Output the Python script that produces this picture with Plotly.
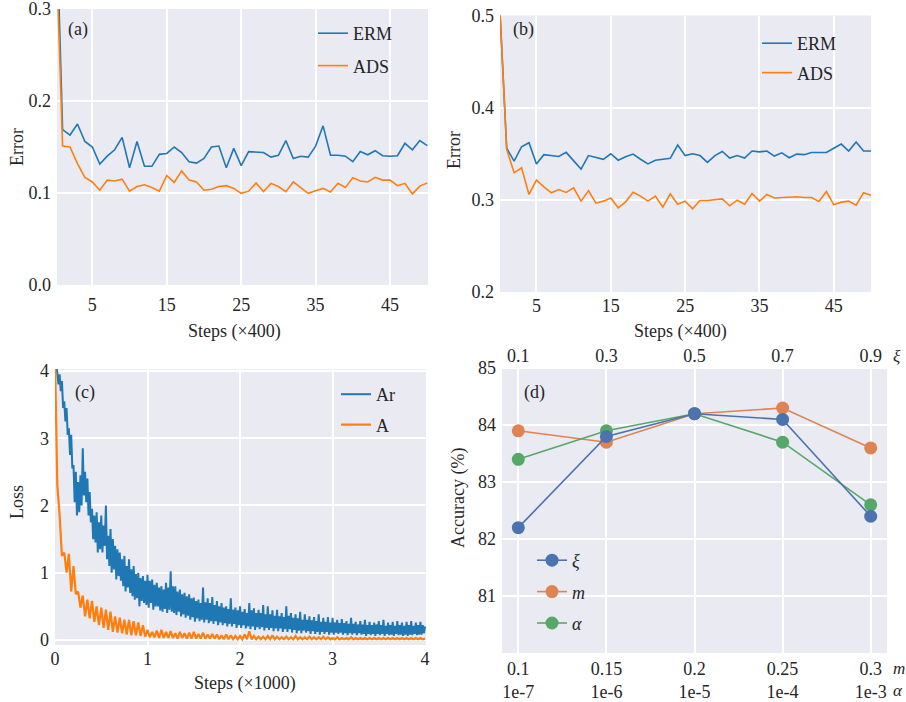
import plotly.graph_objects as go

W, H = 906, 702

# ---------------- data ----------------
# (a) error curves, steps x400 (index 0..50)
erm_a = [0.45, 0.169, 0.163, 0.175, 0.156, 0.150, 0.1315, 0.140, 0.147, 0.1605, 0.1275,
         0.156, 0.129, 0.129, 0.142, 0.143, 0.150, 0.144, 0.134, 0.1325, 0.1375,
         0.150, 0.151, 0.1275, 0.1485, 0.1297, 0.145, 0.1445, 0.144, 0.139, 0.141,
         0.157, 0.1375, 0.140, 0.139, 0.151, 0.173, 0.141, 0.141, 0.140, 0.134,
         0.145, 0.1415, 0.146, 0.1405, 0.140, 0.1405, 0.154, 0.147, 0.157, 0.1515]
ads_a = [0.40, 0.151, 0.150, 0.132, 0.117, 0.112, 0.103, 0.114, 0.113, 0.115, 0.102,
         0.107, 0.109, 0.106, 0.102, 0.119, 0.1115, 0.124, 0.114, 0.112, 0.103,
         0.104, 0.107, 0.108, 0.105, 0.0996, 0.102, 0.111, 0.1015, 0.1105, 0.107,
         0.1015, 0.112, 0.106, 0.0996, 0.1025, 0.105, 0.101, 0.1105, 0.106, 0.1167,
         0.113, 0.112, 0.117, 0.114, 0.114, 0.108, 0.1105, 0.099, 0.1075, 0.111]

# (b) error curves
erm_b = [0.52, 0.356, 0.342, 0.3576, 0.362, 0.339, 0.349, 0.348, 0.347, 0.3515, 0.342,
         0.3333, 0.348, 0.3464, 0.344, 0.350, 0.343, 0.3467, 0.3496, 0.344, 0.339,
         0.343, 0.3438, 0.345, 0.3594, 0.348, 0.350, 0.348, 0.3406, 0.348, 0.3525,
         0.3453, 0.348, 0.3453, 0.353, 0.352, 0.353, 0.3475, 0.351, 0.3457, 0.3496,
         0.349, 0.3514, 0.3514, 0.3514, 0.356, 0.3605, 0.353, 0.3627, 0.353, 0.353]
ads_b = [0.52, 0.3547, 0.3293, 0.3348, 0.3058, 0.3214, 0.314, 0.3076, 0.3112, 0.308, 0.313,
         0.2986, 0.310, 0.2964, 0.2986, 0.302, 0.2913, 0.2978, 0.3083, 0.304, 0.2986,
         0.304, 0.292, 0.3065, 0.2953, 0.2986, 0.2902, 0.2993, 0.2993, 0.300, 0.301,
         0.2935, 0.2996, 0.2953, 0.3069, 0.2986, 0.3058, 0.302, 0.3025, 0.3033, 0.3033,
         0.3025, 0.3025, 0.2982, 0.309, 0.2946, 0.2975, 0.2986, 0.2942, 0.3076, 0.305]

# (c) loss curve "Ar", one reading every 12.5 steps (x in thousands)
loss_ar = [4.30, 4.10, 4.00, 3.80, 3.95, 3.70, 3.85, 3.45,
           3.55, 3.25, 3.45, 3.05, 3.15, 2.75, 3.05, 2.55,
           2.60, 2.05, 2.50, 1.85, 2.35, 1.90, 2.45, 2.00,
           2.85, 2.15, 2.50, 2.05, 2.40, 1.85, 2.20, 1.75,
           1.95, 1.50, 1.85, 1.45, 1.90, 1.30, 1.75, 1.35,
           1.85, 1.30, 1.70, 1.40, 2.00, 1.20, 1.55, 1.10,
           1.65, 1.00, 1.50, 1.05, 1.40, 0.90, 1.35, 0.95,
           1.30, 0.88, 1.20, 0.80, 1.25, 0.72, 1.10, 0.78,
           1.20, 0.70, 1.05, 0.65, 1.10, 0.60, 0.98, 0.62,
           1.00, 0.50, 0.92, 0.58, 0.95, 0.55, 0.88, 0.52,
           0.97, 0.48, 0.88, 0.55, 0.90, 0.45, 0.82, 0.50,
           0.85, 0.50, 0.78, 0.44, 0.80, 0.42, 0.75, 0.46,
           0.85, 0.40, 0.78, 0.45, 1.02, 0.42, 0.80, 0.40,
           0.80, 0.37, 0.72, 0.42, 0.75, 0.35, 0.68, 0.38,
           0.70, 0.33, 0.65, 0.36, 0.68, 0.30, 0.62, 0.34,
           0.63, 0.27, 0.58, 0.32, 0.60, 0.28, 0.55, 0.30,
           0.78, 0.26, 0.56, 0.30, 0.62, 0.25, 0.55, 0.28,
           0.64, 0.24, 0.52, 0.28, 0.58, 0.22, 0.50, 0.26,
           0.55, 0.22, 0.48, 0.25, 0.50, 0.20, 0.46, 0.24,
           0.62, 0.20, 0.45, 0.24, 0.48, 0.18, 0.44, 0.22,
           0.50, 0.18, 0.42, 0.22, 0.46, 0.17, 0.40, 0.20,
           0.55, 0.16, 0.44, 0.20, 0.47, 0.15, 0.40, 0.19,
           0.45, 0.16, 0.40, 0.19, 0.52, 0.14, 0.38, 0.18,
           0.50, 0.15, 0.38, 0.18, 0.44, 0.13, 0.36, 0.17,
           0.45, 0.13, 0.35, 0.17, 0.40, 0.12, 0.34, 0.16,
           0.50, 0.12, 0.36, 0.16, 0.40, 0.11, 0.33, 0.15,
           0.38, 0.10, 0.32, 0.14, 0.42, 0.10, 0.30, 0.14,
           0.38, 0.11, 0.30, 0.13, 0.35, 0.09, 0.29, 0.13,
           0.34, 0.09, 0.28, 0.12, 0.38, 0.08, 0.27, 0.12,
           0.33, 0.09, 0.27, 0.12, 0.34, 0.08, 0.26, 0.11,
           0.33, 0.08, 0.26, 0.11, 0.30, 0.09, 0.25, 0.11,
           0.31, 0.08, 0.25, 0.10, 0.28, 0.07, 0.24, 0.10,
           0.33, 0.08, 0.24, 0.10, 0.27, 0.07, 0.23, 0.10,
           0.28, 0.08, 0.23, 0.09, 0.30, 0.06, 0.22, 0.09,
           0.27, 0.07, 0.22, 0.09, 0.26, 0.06, 0.23, 0.09,
           0.28, 0.07, 0.22, 0.09, 0.30, 0.06, 0.21, 0.09,
           0.26, 0.07, 0.22, 0.08, 0.27, 0.06, 0.21, 0.09,
           0.28, 0.07, 0.22, 0.08, 0.26, 0.06, 0.21, 0.08,
           0.27, 0.06, 0.22, 0.08, 0.28, 0.07, 0.21, 0.09,
           0.26, 0.07, 0.22, 0.08, 0.27, 0.08, 0.22, 0.10,
           0.20]
step_ar = 0.0125  # thousands of steps between readings

# (c) loss curve "A", one reading every 25 steps
loss_a = [4.20, 2.30, 1.85, 1.25, 1.30, 1.00, 1.28, 0.72, 1.10, 0.68,
          0.72, 0.48, 0.66, 0.35, 0.60, 0.32, 0.58, 0.27, 0.50, 0.22,
          0.48, 0.18, 0.45, 0.15, 0.42, 0.12, 0.35, 0.11, 0.33, 0.10,
          0.30, 0.08, 0.30, 0.07, 0.28, 0.07, 0.26, 0.06, 0.22, 0.05,
          0.15, 0.04, 0.12, 0.04, 0.14, 0.03, 0.15, 0.03, 0.12, 0.03,
          0.13, 0.03, 0.10, 0.02, 0.12, 0.03, 0.10, 0.02, 0.11, 0.02,
          0.12, 0.02, 0.09, 0.02, 0.11, 0.02, 0.08, 0.02, 0.09, 0.02,
          0.08, 0.01, 0.07, 0.01, 0.08, 0.01, 0.07, 0.01, 0.06, 0.01,
          0.06, 0.01, 0.08, 0.01, 0.13, 0.01, 0.06, 0.01, 0.05, 0.01,
          0.05, 0.01, 0.06, 0.01, 0.07, 0.01, 0.05, 0.01, 0.04, 0.01,
          0.05, 0.01, 0.04, 0.01, 0.06, 0.01, 0.04, 0.01, 0.04, 0.01,
          0.05, 0.01, 0.04, 0.01, 0.04, 0.01, 0.05, 0.01, 0.04, 0.01,
          0.03, 0.01, 0.04, 0.01, 0.03, 0.01, 0.03, 0.01, 0.04, 0.01,
          0.03, 0.01, 0.03, 0.01, 0.03, 0.01, 0.03, 0.01, 0.03, 0.01,
          0.03, 0.01, 0.03, 0.01, 0.03, 0.01, 0.03, 0.01, 0.03, 0.01,
          0.03, 0.01, 0.03, 0.01, 0.03, 0.01, 0.03, 0.01, 0.03, 0.01,
          0.02]
step_a = 0.025

# (d) hyper-parameter sensitivity
d_pos = [0, 1, 2, 3, 4]
xi_labels = ["0.1", "0.3", "0.5", "0.7", "0.9"]
m_labels = ["0.1", "0.15", "0.2", "0.25", "0.3"]
alpha_labels = ["1e-7", "1e-6", "1e-5", "1e-4", "1e-3"]
acc_xi = [82.2, 83.8, 84.2, 84.1, 82.4]
acc_m = [83.9, 83.7, 84.2, 84.3, 83.6]
acc_alpha = [83.4, 83.9, 84.2, 83.7, 82.6]

# ---------------- style ----------------
BLUE, ORANGE = "#1f77b4", "#ff7f0e"
D_BLUE, D_ORANGE, D_GREEN = "#4C72B0", "#DD8452", "#55A868"
BG = "#EAEAF2"
TXT = "#262626"
FONT = "Liberation Serif, Times New Roman, serif"
TICK = 18


def px_x(p):
    return p / W


def px_y(p):
    return 1 - p / H


fig = go.Figure()

steps_a = list(range(len(erm_a)))
steps_b = list(range(len(erm_b)))
fig.add_trace(go.Scatter(x=steps_a, y=erm_a, mode="lines", name="ERM", line=dict(color=BLUE, width=1.6),
                         xaxis="x", yaxis="y", legend="legend", legendgroup="a1"))
fig.add_trace(go.Scatter(x=steps_a, y=ads_a, mode="lines", name="ADS", line=dict(color=ORANGE, width=1.6),
                         xaxis="x", yaxis="y", legend="legend", legendgroup="a2"))
fig.add_trace(go.Scatter(x=steps_b, y=erm_b, mode="lines", name="ERM", line=dict(color=BLUE, width=1.6),
                         xaxis="x2", yaxis="y2", legend="legend2", legendgroup="b1"))
fig.add_trace(go.Scatter(x=steps_b, y=ads_b, mode="lines", name="ADS", line=dict(color=ORANGE, width=1.6),
                         xaxis="x2", yaxis="y2", legend="legend2", legendgroup="b2"))

x_ar = [i * step_ar for i in range(len(loss_ar))]
x_a = [i * step_a for i in range(len(loss_a))]
fig.add_trace(go.Scatter(x=x_ar, y=loss_ar, mode="lines", name="Ar", line=dict(color=BLUE, width=2.0),
                         xaxis="x3", yaxis="y3", legend="legend3", legendgroup="c1"))
fig.add_trace(go.Scatter(x=x_a, y=loss_a, mode="lines", name="A", line=dict(color=ORANGE, width=2.2),
                         xaxis="x3", yaxis="y3", legend="legend3", legendgroup="c2"))

fig.add_trace(go.Scatter(x=d_pos, y=acc_xi, mode="lines+markers", name="<i>ξ</i>",
                         line=dict(color=D_BLUE, width=1.6), marker=dict(size=13, color=D_BLUE),
                         xaxis="x5", yaxis="y4", legend="legend4", legendgroup="d1"))
fig.add_trace(go.Scatter(x=d_pos, y=acc_m, mode="lines+markers", name="<i>m</i>",
                         line=dict(color=D_ORANGE, width=1.6), marker=dict(size=13, color=D_ORANGE),
                         xaxis="x4", yaxis="y4", legend="legend4", legendgroup="d2"))
fig.add_trace(go.Scatter(x=d_pos, y=acc_alpha, mode="lines+markers", name="<i>α</i>",
                         line=dict(color=D_GREEN, width=1.6), marker=dict(size=13, color=D_GREEN),
                         xaxis="x4", yaxis="y4", legend="legend4", legendgroup="d3"))

axis_common = dict(showgrid=True, gridcolor="white", gridwidth=1.6, zeroline=False, showline=False,
                   ticks="", automargin=False, ticklabeloverflow="allow",
                   tickfont=dict(family=FONT, size=TICK, color=TXT))

fig.update_layout(
    width=W, height=H, autosize=False,
    margin=dict(l=0, r=0, t=0, b=0, pad=0, autoexpand=False),
    paper_bgcolor="white", plot_bgcolor=BG,
    font=dict(family=FONT, size=16, color=TXT),
    xaxis=dict(domain=[px_x(57), px_x(428)], anchor="y", range=[0.25, 50.1],
               tickvals=[5, 15, 25, 35, 45], ticklabelstandoff=7, **axis_common),
    yaxis=dict(domain=[px_y(285), px_y(9)], anchor="x", range=[0, 0.3],
               tickvals=[0, 0.1, 0.2, 0.3], ticktext=["0.0", "0.1", "0.2", "0.3"],
               ticklabelstandoff=5, **axis_common),
    xaxis2=dict(domain=[px_x(500), px_x(871)], anchor="y2", range=[0.1, 50.0],
                tickvals=[5, 15, 25, 35, 45], ticklabelstandoff=1, **axis_common),
    yaxis2=dict(domain=[px_y(292), px_y(15.5)], anchor="x2", range=[0.2, 0.5],
                tickvals=[0.2, 0.3, 0.4, 0.5], ticktext=["0.2", "0.3", "0.4", "0.5"],
                ticklabelstandoff=5, **axis_common),
    xaxis3=dict(domain=[px_x(55), px_x(426)], anchor="y3", range=[0, 4.01],
                tickvals=[0, 1, 2, 3, 4], ticklabelstandoff=1, **axis_common),
    yaxis3=dict(domain=[px_y(645), px_y(369)], anchor="x3", range=[-0.075, 4.03],
                tickvals=[0, 1, 2, 3, 4], ticklabelstandoff=5, **axis_common),
    xaxis4=dict(domain=[px_x(502), px_x(887)], anchor="y4", range=[-0.185, 4.185],
                tickvals=d_pos, ticktext=[f"{a}<br>{b}" for a, b in zip(m_labels, alpha_labels)],
                ticklabelstandoff=3, **axis_common),
    xaxis5=dict(overlaying="x4", anchor="y4", side="top", range=[-0.185, 4.185],
                tickvals=d_pos, ticktext=xi_labels, ticklabelstandoff=0,
                showgrid=False, zeroline=False, showline=False, ticks="", automargin=False,
                ticklabeloverflow="allow", tickfont=dict(family=FONT, size=TICK, color=TXT)),
    yaxis4=dict(domain=[px_y(653), px_y(367)], anchor="x4", range=[80, 85.02],
                tickvals=[81, 82, 83, 84, 85], ticklabelstandoff=5, **axis_common),
)

leg_common = dict(xanchor="left", yanchor="top", bgcolor="rgba(0,0,0,0)", borderwidth=0,
                  font=dict(family=FONT, size=18, color=TXT))
fig.update_layout(
    legend=dict(x=px_x(313), y=px_y(15), tracegroupgap=6, **leg_common),
    legend2=dict(x=px_x(757), y=px_y(25), tracegroupgap=3, **leg_common),
    legend3=dict(x=px_x(336), y=px_y(376), tracegroupgap=4, **leg_common),
    legend4=dict(x=px_x(532), y=px_y(542), tracegroupgap=5, **leg_common),
)

annots = [
    # panel tags
    dict(text="(a)", x=px_x(78), y=px_y(29)),
    dict(text="(b)", x=px_x(523), y=px_y(29)),
    dict(text="(c)", x=px_x(85), y=px_y(392)),
    dict(text="(d)", x=px_x(534), y=px_y(392)),
    # axis titles
    dict(text="Steps (×400)", x=px_x(234), y=px_y(332)),
    dict(text="Steps (×400)", x=px_x(680), y=px_y(332)),
    dict(text="Steps (×1000)", x=px_x(245), y=px_y(683)),
    dict(text="Error", x=px_x(17), y=px_y(147), textangle=-90),
    dict(text="Error", x=px_x(454), y=px_y(150), textangle=-90),
    dict(text="Loss", x=px_x(17), y=px_y(502), textangle=-90),
    dict(text="Accuracy (%)", x=px_x(458), y=px_y(498), textangle=-90),
]
ann_list = []
for a in annots:
    d = dict(xref="paper", yref="paper", showarrow=False, xanchor="center", yanchor="middle",
             font=dict(family=FONT, size=18, color=TXT))
    d.update(a)
    ann_list.append(d)
# parameter names beside the (d) tick rows
for txt, yy in [("<i>ξ</i>", 356), ("<i>m</i>", 668), ("<i>α</i>", 690)]:
    ann_list.append(dict(text=txt, xref="paper", yref="paper", x=px_x(891), y=px_y(yy),
                         xanchor="left", yanchor="middle", showarrow=False,
                         font=dict(family=FONT, size=17, color=TXT)))
fig.update_layout(annotations=ann_list)

fig.write_html("out.html", config={"displayModeBar": False},
               post_script="document.body.style.margin='0';document.body.style.overflow='hidden';")
